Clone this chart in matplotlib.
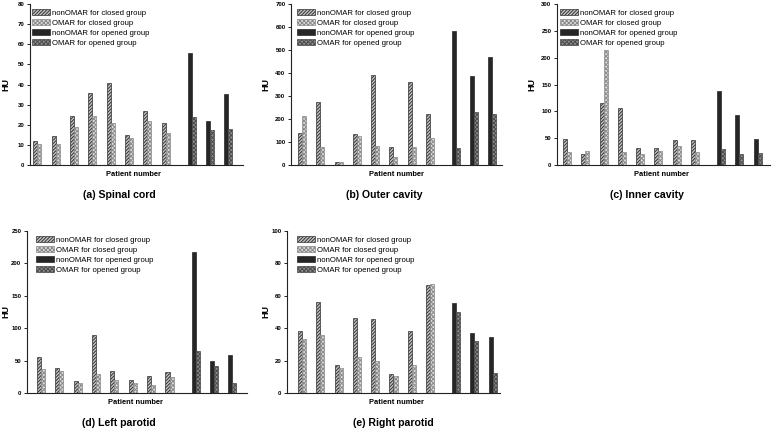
import matplotlib
matplotlib.use("Agg")
import matplotlib.pyplot as plt
import numpy as np

plt.rcParams['font.family'] = ['Liberation Sans', 'DejaVu Sans']
plt.rcParams['hatch.linewidth'] = 0.7

series_names = ["nonOMAR for closed group", "OMAR for closed group",
                "nonOMAR for opened group", "OMAR for opened group"]

titles = ["(a) Spinal cord", "(b) Outer cavity", "(c) Inner cavity",
          "(d) Left parotid", "(e) Right parotid"]

# closed group (8 patients)
spinal_non_closed = [12, 14.5, 24.5, 36, 40.5, 15, 27, 21]
spinal_omar_closed = [10.5, 10.5, 19, 24.5, 21, 13.5, 22, 16]
spinal_non_opened = [55.5, 22, 35.5]
spinal_omar_opened = [24, 17.5, 18]

outer_non_closed = [140, 272, 15, 135, 393, 80, 363, 220]
outer_omar_closed = [215, 80, 15, 125, 83, 35, 77, 117]
outer_non_opened = [583, 385, 470]
outer_omar_opened = [75, 230, 220]

inner_non_closed = [48, 20, 115, 107, 32, 32, 46, 46]
inner_omar_closed = [25, 26, 215, 24, 21, 27, 35, 25]
inner_non_opened = [137, 93, 49]
inner_omar_opened = [29, 20, 22]

lpar_non_closed = [55, 39, 18, 90, 34, 20, 26, 33]
lpar_omar_closed = [37, 34, 15, 30, 20, 15, 12, 24]
lpar_non_opened = [218, 50, 59]
lpar_omar_opened = [65, 41, 15]

rpar_non_closed = [38, 56, 17.5, 46.5, 45.5, 11.5, 38, 66.5]
rpar_omar_closed = [33.5, 36, 15.5, 22.5, 20, 10.5, 17, 67.5]
rpar_non_opened = [55.5, 37, 34.5]
rpar_omar_opened = [50, 32, 12.5]

ylims = [80, 700, 300, 250, 100]
ysteps = [10, 100, 50, 50, 20]

data = [
    (spinal_non_closed, spinal_omar_closed, spinal_non_opened, spinal_omar_opened),
    (outer_non_closed, outer_omar_closed, outer_non_opened, outer_omar_opened),
    (inner_non_closed, inner_omar_closed, inner_non_opened, inner_omar_opened),
    (lpar_non_closed, lpar_omar_closed, lpar_non_opened, lpar_omar_opened),
    (rpar_non_closed, rpar_omar_closed, rpar_non_opened, rpar_omar_opened),
]

W, H = 773, 428
fig = plt.figure(figsize=(W / 100, H / 100), dpi=100)

# axes boxes in pixels: left, right, top, bottom ; xlim
boxes = [
    (30, 243, 4, 165, (-0.40, 11.22)),
    (291, 502, 4, 165, (-0.62, 10.97)),
    (557, 770, 4, 165, (-0.55, 11.10)),
    (27, 247, 231, 393, (-0.76, 11.22)),
    (287, 500, 231, 393, (-0.82, 10.82)),
]
title_x = [119, 384, 647, 119, 393]
pn_x = [133, 397, 662, 136, 397]
hu_x = [6, 266, 532, 6, 266]
legend_x = [32, 297, 560, 36, 297]

styles = [
    dict(facecolor='#c4c4c4', edgecolor='#333333', hatch='//////////'),
    dict(facecolor='#dcdcdc', edgecolor='#8a8a8a', hatch='xxxxxxxx'),
    dict(facecolor='#262626', edgecolor='#262626', hatch=None),
    dict(facecolor='#8e8e8e', edgecolor='#4a4a4a', hatch='xxxxxxxx'),
]

closed_pos = np.arange(8)
opened_pos = np.array([8.42, 9.42, 10.42])
bw = 0.22

for i, ((l, r, t, b, xl), vals) in enumerate(zip(boxes, data)):
    ax = fig.add_axes([l / W, 1 - b / H, (r - l) / W, (b - t) / H])
    nc, oc, no, oo = vals
    handles = []
    handles.append(ax.bar(closed_pos - bw / 2, nc, bw, linewidth=0.5, **styles[0]))
    handles.append(ax.bar(closed_pos + bw / 2, oc, bw, linewidth=0.5, **styles[1]))
    handles.append(ax.bar(opened_pos - bw / 2, no, bw, linewidth=0.5, **styles[2]))
    handles.append(ax.bar(opened_pos + bw / 2, oo, bw, linewidth=0.5, **styles[3]))
    ax.set_xlim(*xl)
    ax.set_ylim(0, ylims[i])
    ax.set_yticks(np.arange(0, ylims[i] + 1, ysteps[i]))
    ax.set_xticks([])
    for s in ['top', 'right']:
        ax.spines[s].set_visible(False)
    for s in ['left', 'bottom']:
        ax.spines[s].set_linewidth(0.8)
        ax.spines[s].set_color('#222222')
    ax.tick_params(axis='y', length=2, width=0.6, pad=2, labelsize=4.3)
    for lab in ax.get_yticklabels():
        lab.set_fontweight('bold')
    cy = 1 - (t + b) / 2 / H
    fig.text(hu_x[i] / W, cy, "HU", rotation=90, ha='center', va='center',
             fontsize=6.5, fontweight='bold')
    fig.text(pn_x[i] / W, 1 - (b + 10) / H, "Patient number", ha='center',
             va='center', fontsize=5.4, fontweight='bold')
    fig.text(title_x[i] / W, 1 - (b + 29.5) / H, titles[i], ha='center',
             va='center', fontsize=7.6, fontweight='bold')
    ax.legend(handles, series_names, loc='upper left',
              bbox_to_anchor=(legend_x[i] / W, 1 - (t + 5) / H),
              bbox_transform=fig.transFigure, frameon=False, fontsize=5.6,
              borderpad=0, borderaxespad=0, handlelength=2.3, handleheight=0.8,
              handletextpad=0.25, labelspacing=0.3)

fig.savefig("out.png", dpi=100)
